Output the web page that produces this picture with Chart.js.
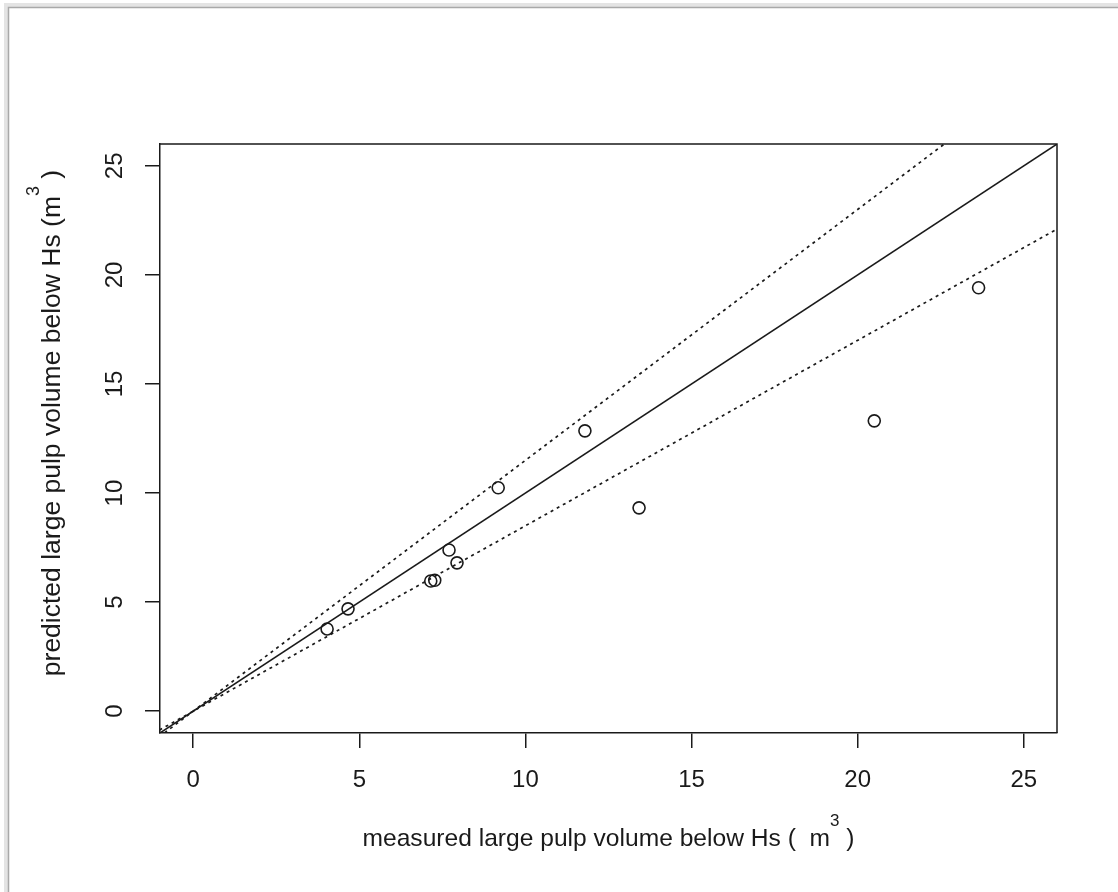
<!DOCTYPE html>
<html>
<head>
<meta charset="utf-8">
<script src="https://cdn.jsdelivr.net/npm/chart.js@4/dist/chart.umd.min.js"></script>
<style>
  html, body { margin: 0; padding: 0; background: #ffffff; }
  #wrap { width: 1118px; height: 892px; }
</style>
</head>
<body>
<div id="wrap"><canvas id="c" width="1118" height="892"></canvas></div>
<script>
// ---- data ----
const measured  = [4.03, 4.66, 7.15, 7.27, 7.70, 7.94, 9.18, 11.79, 13.42, 20.50, 23.64];
const predicted = [3.77, 4.69, 5.97, 6.00, 7.39, 6.80, 10.24, 12.85, 9.32, 13.31, 19.41];
const xTicks = [0, 5, 10, 15, 20, 25];
const yTicks = [0, 5, 10, 15, 20, 25];
// reference lines (1:1 and +/-15 %) as end points
const lineX      = [-1.2, 27];
const lineEqual  = [-1.2, 27];
const lineUpper  = [-1.38, 31.05];
const lineLower  = [-1.02, 22.95];

const FONT = "'Liberation Sans', Arial, sans-serif";
const INK = '#1a1a1a';

function pts(xs, ys) { return xs.map((x, i) => ({ x: x, y: ys[i] })); }

const framePlugin = {
  id: 'frame',
  beforeDraw(chart) {
    const ctx = chart.ctx;
    ctx.save();
    ctx.fillStyle = '#ffffff';
    ctx.fillRect(0, 0, chart.width, chart.height);
    // soft shadow + border of the screenshot frame
    ctx.strokeStyle = '#e4e4e4';
    ctx.lineWidth = 4;
    ctx.beginPath();
    ctx.moveTo(6, chart.height); ctx.lineTo(6, 5); ctx.lineTo(chart.width, 5);
    ctx.stroke();
    ctx.strokeStyle = '#a9a9a9';
    ctx.lineWidth = 1.5;
    ctx.beginPath();
    ctx.moveTo(8.5, chart.height); ctx.lineTo(8.5, 7.5); ctx.lineTo(chart.width, 7.5);
    ctx.stroke();
    ctx.restore();
  },
  afterDraw(chart) {
    const ctx = chart.ctx;
    const a = chart.chartArea;
    ctx.save();
    // box (top and right sides)
    ctx.strokeStyle = INK;
    ctx.lineWidth = 1.5;
    ctx.beginPath();
    ctx.moveTo(a.left, a.top); ctx.lineTo(a.right, a.top); ctx.lineTo(a.right, a.bottom);
    ctx.stroke();

    // axis titles with superscript
    ctx.fillStyle = INK;
    function drawTitle(parts, cx, cy, rot, size) {
      const main = size + 'px ' + FONT, sup = Math.round(size * 0.68) + 'px ' + FONT;
      ctx.save();
      ctx.translate(cx, cy);
      ctx.rotate(rot);
      let total = 0;
      parts.forEach(p => { ctx.font = p.sup ? sup : main; total += ctx.measureText(p.t).width; });
      let x = -total / 2;
      ctx.textBaseline = 'alphabetic';
      ctx.textAlign = 'left';
      parts.forEach(p => {
        ctx.font = p.sup ? sup : main;
        ctx.fillText(p.t, x, p.sup ? -size * 0.8 : 0);
        x += ctx.measureText(p.t).width;
      });
      ctx.restore();
    }
    const cx = (a.left + a.right) / 2;
    drawTitle([{t: 'measured large pulp volume below Hs (  m'}, {t: '3', sup: true}, {t: ' )'}], cx, 846, 0, 24.6);
    drawTitle([{t: 'predicted large pulp volume below Hs (m'}, {t: '3', sup: true}, {t: ' )'}], 60, 423, -Math.PI / 2, 26.5);
    ctx.restore();
  }
};

const axisCommon = {
  type: 'linear',
  min: -1,
  max: 26,
  grid: { display: true, drawOnChartArea: false, drawTicks: true, tickLength: 15, color: INK, lineWidth: 1.5 },
  border: { display: true, color: INK, width: 1.5 },
  title: { display: false }
};

new Chart(document.getElementById('c'), {
  type: 'scatter',
  data: {
    datasets: [
      { type: 'line', data: pts(lineX, lineEqual), borderColor: INK, borderWidth: 1.5, pointRadius: 0, fill: false, tension: 0 },
      { type: 'line', data: pts(lineX, lineUpper), borderColor: INK, borderWidth: 1.7, borderDash: [3, 4], pointRadius: 0, fill: false, tension: 0 },
      { type: 'line', data: pts(lineX, lineLower), borderColor: INK, borderWidth: 1.7, borderDash: [3, 4], pointRadius: 0, fill: false, tension: 0 },
      { data: pts(measured, predicted), pointStyle: 'circle', pointRadius: 6, pointBorderWidth: 1.6,
        pointBorderColor: INK, pointBackgroundColor: 'rgba(0,0,0,0)', showLine: false }
    ]
  },
  options: {
    responsive: false,
    animation: false,
    devicePixelRatio: 1,
    layout: { padding: { top: 144, right: 61, left: 0, bottom: 0 } },
    plugins: { legend: { display: false }, tooltip: { enabled: false } },
    scales: {
      x: Object.assign({}, axisCommon, {
        position: 'bottom',
        afterBuildTicks: s => { s.ticks = xTicks.map(v => ({ value: v })); },
        afterFit: s => { s.height = 159; },
        ticks: { color: INK, font: { family: FONT, size: 24 }, padding: 18, maxRotation: 0, autoSkip: false }
      }),
      y: Object.assign({}, axisCommon, {
        position: 'left',
        afterBuildTicks: s => { s.ticks = yTicks.map(v => ({ value: v })); },
        afterFit: s => { s.width = 160; },
        ticks: { color: INK, font: { family: FONT, size: 24 }, padding: 16, minRotation: 90, maxRotation: 90,
                 crossAlign: 'center', autoSkip: false }
      })
    }
  },
  plugins: [framePlugin]
});
</script>
</body>
</html>
